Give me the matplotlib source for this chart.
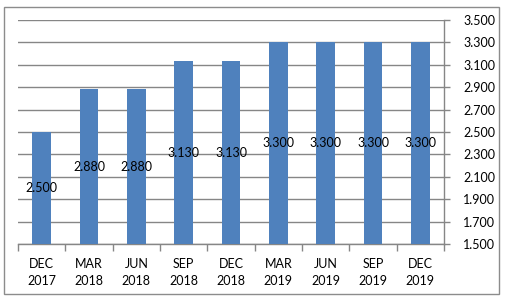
import matplotlib
matplotlib.use("Agg")
import matplotlib.pyplot as plt
from matplotlib.patches import Rectangle
import numpy as np

categories = ["DEC\n2017", "MAR\n2018", "JUN\n2018", "SEP\n2018", "DEC\n2018",
              "MAR\n2019", "JUN\n2019", "SEP\n2019", "DEC\n2019"]
values = [2.500, 2.880, 2.880, 3.130, 3.130, 3.300, 3.300, 3.300, 3.300]
yticks = [1.5, 1.7, 1.9, 2.1, 2.3, 2.5, 2.7, 2.9, 3.1, 3.3, 3.5]

W, H = 506, 301
fig = plt.figure(figsize=(W / 100, H / 100), dpi=100)
fig.patch.set_facecolor("white")
fig.add_artist(Rectangle((4 / W, 7 / H), 495 / W, 287 / H, transform=fig.transFigure,
                         fill=False, edgecolor="#8c8c8c", linewidth=1))

ax = fig.add_axes([18 / W, (H - 244) / H, 426 / W, 224 / H])
fontprops = dict(family="Lato", size=9)
base = 1.5
x = np.arange(len(categories))
ax.bar(x, [v - base for v in values], bottom=base, width=0.4, color="#4F81BD", zorder=3)
for xi, v in zip(x, values):
    ax.text(xi, (base + v) / 2, f"{v:.3f}", ha="center", va="center", color="black",
            zorder=4, **fontprops)

ax.set_xlim(-0.5, len(categories) - 0.5)
ax.set_ylim(1.5, 3.5)
ax.set_yticks(yticks)
ax.set_yticklabels([f"{t:.3f}" for t in yticks], **fontprops)
ax.yaxis.tick_right()
ax.grid(axis="y", color="#868686", linewidth=1, zorder=0)
ax.set_xticks(x)
ax.set_xticklabels(categories, linespacing=1.5, **fontprops)
ax.set_xticks(np.arange(-0.5, len(categories)), minor=True)
ax.tick_params(axis="x", which="major", length=0, pad=10)
ax.tick_params(axis="x", which="minor", length=5, color="#868686", width=1)
ax.tick_params(axis="y", length=4, color="#868686", width=1, pad=10, right=True, left=False)
for s in ["left", "top"]:
    ax.spines[s].set_visible(False)
for s in ["right", "bottom"]:
    ax.spines[s].set_color("#868686")
    ax.spines[s].set_linewidth(1)

fig.savefig("out.png", dpi=100, facecolor="white")
